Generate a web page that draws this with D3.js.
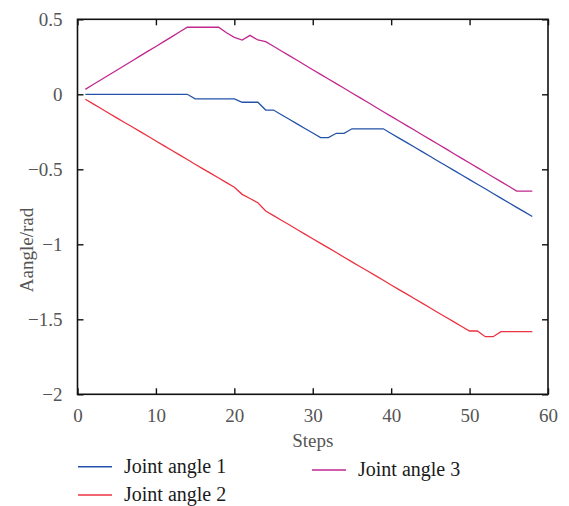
<!DOCTYPE html>
<html>
<head>
<meta charset="utf-8">
<script src="https://cdn.jsdelivr.net/npm/d3@7"></script>
<style>
body{margin:0;background:#fff;}
svg text{font-family:"Liberation Serif","DejaVu Serif",serif;}
</style>
</head>
<body>
<svg id="chart"></svg>
<script>
//steps on x axis
var steps=[1,2,3,4,5,6,7,8,9,10,11,12,13,14,15,16,17,18,19,20,21,22,23,24,25,26,27,28,29,
    30,31,32,33,34,35,36,37,38,39,40,41,42,43,44,45,46,47,48,49,50,51,52,53,54,55,56,57,58]

var joint1=[0,0,0,0,0,0,0,0,0,0,0,0,0,0,
    -0.03,-0.03,-0.03,-0.03,-0.03,-0.03,
    -0.053,-0.053,-0.053,-0.105,-0.105,
    -0.136,-0.166,-0.197,-0.228,-0.258,-0.289,-0.289,
    -0.26,-0.26,-0.23,-0.23,-0.23,-0.23,-0.23,
    -0.261,-0.292,-0.322,-0.353,-0.384,-0.415,-0.446,-0.476,-0.507,-0.538,
    -0.569,-0.600,-0.630,-0.661,-0.692,-0.723,-0.754,-0.784,-0.815]

var joint2=[-0.033,-0.064,-0.095,-0.126,-0.157,-0.188,-0.218,-0.249,-0.280,-0.311,
    -0.342,-0.373,-0.404,-0.435,-0.466,-0.497,-0.527,-0.558,-0.589,-0.620,
    -0.667,-0.695,-0.723,-0.778,
    -0.809,-0.840,-0.870,-0.901,-0.932,-0.963,-0.994,-1.024,-1.055,-1.086,
    -1.117,-1.148,-1.178,-1.209,-1.240,-1.271,-1.302,-1.332,-1.363,-1.394,
    -1.425,-1.456,-1.486,-1.517,-1.548,-1.578,
    -1.578,-1.616,-1.616,-1.582,-1.582,-1.582,-1.582,-1.582]

var joint3=[0.033,0.065,0.097,0.129,0.160,0.192,0.224,0.256,0.288,0.319,0.351,0.383,0.415,0.447,
    0.447,0.447,0.447,0.447,
    0.41,0.38,0.362,0.393,0.362,0.351,
    0.320,0.289,0.258,0.227,0.195,0.164,0.133,0.102,0.071,0.040,0.009,-0.022,
    -0.053,-0.085,-0.116,-0.147,-0.178,-0.209,-0.240,-0.271,-0.302,-0.333,
    -0.364,-0.396,-0.427,-0.458,-0.489,-0.520,-0.551,-0.582,-0.613,-0.645,
    -0.645,-0.645]

var seriesNames=["Joint angle 1","Joint angle 2","Joint angle 3"]
var xTicks=[0,10,20,30,40,50,60]
var yTicks=[0.5,0,-0.5,-1,-1.5,-2]

var colors=["#2352a8","#ec3240","#c1278f"]

var screen={width:569,height:506}
var margins={top:19.3,bottom:111.7,left:77.5,right:21}

var svg=d3.select("#chart")
    .attr("width",screen.width)
    .attr("height",screen.height)

var xScale=d3.scaleLinear()
    .domain([0,60])
    .range([margins.left,screen.width-margins.right])
var yScale=d3.scaleLinear()
    .domain([-2,0.5])
    .range([screen.height-margins.bottom,margins.top])

var fmt=function(d){
    return d<0 ? "\u2212"+Math.abs(d) : ""+d
}

//axes with inward ticks
var bottomAxis=d3.axisBottom(xScale).tickValues(xTicks).tickSizeInner(-6).tickSizeOuter(0).tickPadding(14)
var topAxis=d3.axisTop(xScale).tickValues(xTicks).tickSizeInner(-6).tickSizeOuter(0).tickFormat("")
var leftAxis=d3.axisLeft(yScale).tickValues(yTicks).tickSizeInner(-6).tickSizeOuter(0).tickPadding(15).tickFormat(fmt)
var rightAxis=d3.axisRight(yScale).tickValues(yTicks).tickSizeInner(-6).tickSizeOuter(0).tickFormat("")

svg.append("g")
    .attr("transform","translate(0,"+yScale(-2)+")")
    .call(bottomAxis)
svg.append("g")
    .attr("transform","translate(0,"+yScale(0.5)+")")
    .call(topAxis)
svg.append("g")
    .attr("transform","translate("+xScale(0)+",0)")
    .call(leftAxis)
svg.append("g")
    .attr("transform","translate("+xScale(60)+",0)")
    .call(rightAxis)

svg.selectAll(".domain").remove()
svg.selectAll(".tick line").attr("stroke","#111").attr("stroke-width",1.4)
svg.selectAll(".tick text")
    .attr("fill","#555")
    .style("font-family","'Liberation Serif','DejaVu Serif',serif")
    .style("font-size","19px")

//box
svg.append("rect")
    .attr("x",xScale(0))
    .attr("y",yScale(0.5))
    .attr("width",xScale(60)-xScale(0))
    .attr("height",yScale(-2)-yScale(0.5))
    .attr("fill","none")
    .attr("stroke","#111")
    .attr("stroke-width",1.6)

//lines
var allSeries=[joint1,joint2,joint3]
var line=d3.line()
    .x(function(d,i){return xScale(steps[i])})
    .y(function(d){return yScale(d)})

svg.selectAll(".series")
    .data(allSeries)
    .enter()
    .append("path")
    .attr("class","series")
    .attr("d",line)
    .attr("fill","none")
    .attr("stroke",function(d,i){return colors[i]})
    .attr("stroke-width",1.3)

//axis titles
svg.append("text")
    .attr("x",(xScale(0)+xScale(60))/2)
    .attr("y",447)
    .attr("text-anchor","middle")
    .attr("fill","#555")
    .style("font-size","19px")
    .text("Steps")
svg.append("text")
    .attr("transform","translate(33,250) rotate(-90)")
    .attr("text-anchor","middle")
    .attr("fill","#555")
    .style("font-size","19px")
    .text("Aangle/rad")

//legend
var legendPos=[{x:78,y:466.7},{x:78,y:495},{x:312,y:470}]
var legend=svg.selectAll(".legend")
    .data(seriesNames)
    .enter()
    .append("g")
    .attr("class","legend")
    .attr("transform",function(d,i){return "translate("+legendPos[i].x+","+legendPos[i].y+")"})
legend.append("line")
    .attr("x1",0).attr("x2",34)
    .attr("y1",0).attr("y2",0)
    .attr("stroke",function(d,i){return colors[i]})
    .attr("stroke-width",1.5)
legend.append("text")
    .attr("x",46)
    .attr("y",6)
    .attr("fill","#1a1a1a")
    .style("font-size","20px")
    .text(function(d){return d})
</script>
</body>
</html>
